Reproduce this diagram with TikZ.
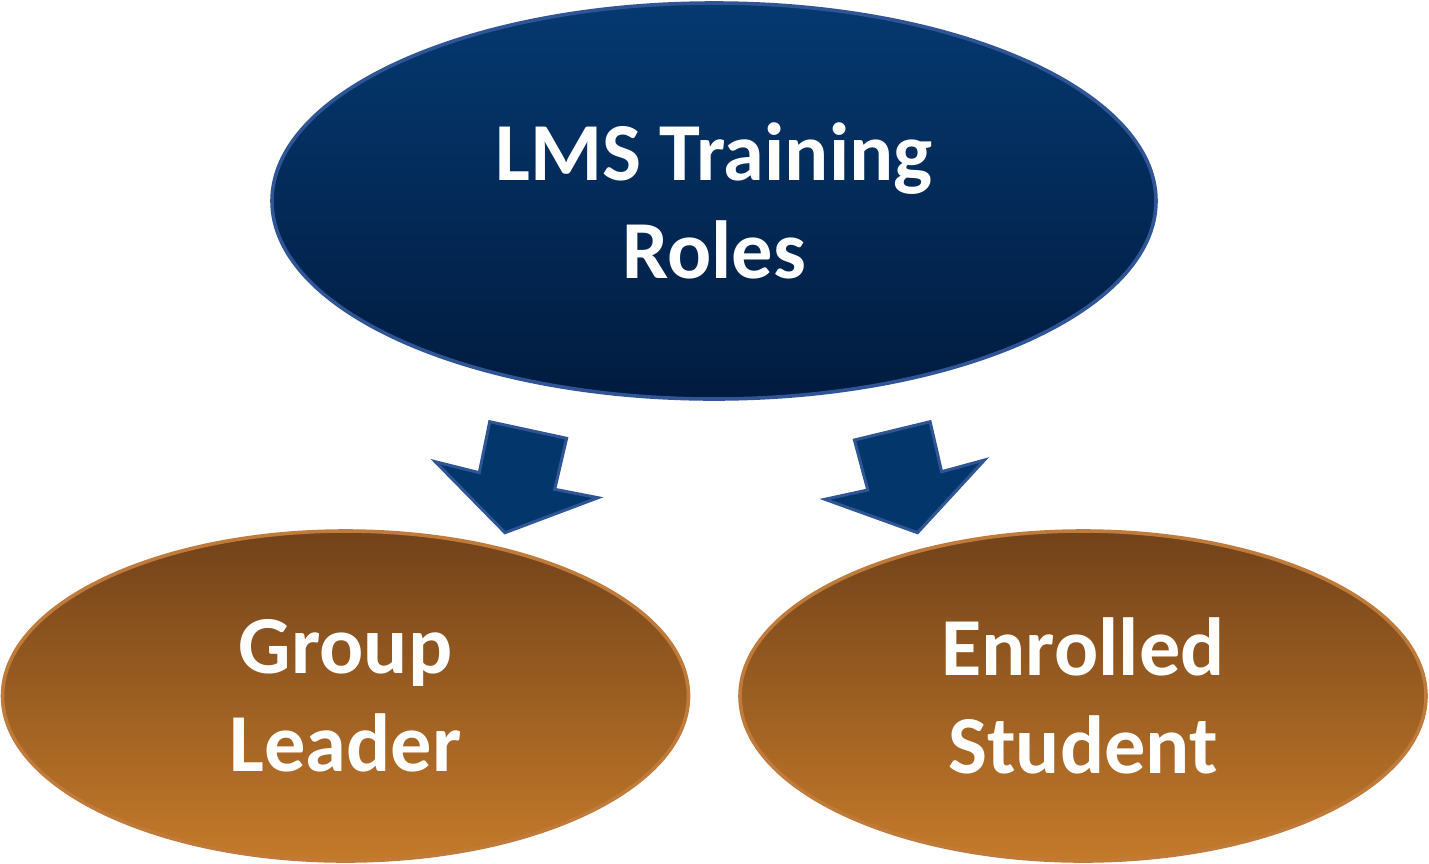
\documentclass[tikz,border=0pt]{standalone}
\usepackage{fontspec}
\setmainfont{Carlito}
\usetikzlibrary{shapes.geometric}
\definecolor{navyT}{HTML}{053970}
\definecolor{navyB}{HTML}{011B3F}
\definecolor{navyEdge}{HTML}{2F5597}
\definecolor{arrowFill}{HTML}{03376B}
\definecolor{brownT}{HTML}{72421A}
\definecolor{brownB}{HTML}{C47A2A}
\definecolor{brownEdge}{HTML}{C07B3B}
\tikzset{
  rolebox/.style={ellipse, inner sep=0pt, align=center, text=white,
    font=\fontsize{41.2}{49}\selectfont\bfseries, line width=1.8pt},
  topbox/.style={rolebox, draw=navyEdge, top color=navyT, bottom color=navyB,
    minimum width=442pt, minimum height=198pt},
  subbox/.style={rolebox, draw=brownEdge, top color=brownT, bottom color=brownB,
    minimum width=343pt, minimum height=165pt},
  blockarrow/.style={fill=arrowFill, draw=navyEdge, line width=1.5pt, line join=miter}
}
\begin{document}
\begin{tikzpicture}[x=0.5pt,y=-0.5pt]
\useasboundingbox (0,0) rectangle (1429,863);
\node[topbox] (top) at (714,201) {LMS Training\\Roles};
\node[subbox] (gl) at (345.5,696) {Group\\Leader};
\node[subbox] (es) at (1083,696) {Enrolled\\Student};
% left block arrow
\draw[blockarrow] (489.7,421.7) -- (566.6,438.3) -- (554.7,489.3) -- (598,497.7)
  -- (505,532.7) -- (435.3,461.7) -- (479.3,472.7) -- cycle;
% right block arrow
\draw[blockarrow] (854.4,440) -- (930.1,421.7) -- (941.6,471.7) -- (984.5,460)
  -- (917.5,532.7) -- (824.9,499.3) -- (867.8,490) -- cycle;
\end{tikzpicture}
\end{document}
